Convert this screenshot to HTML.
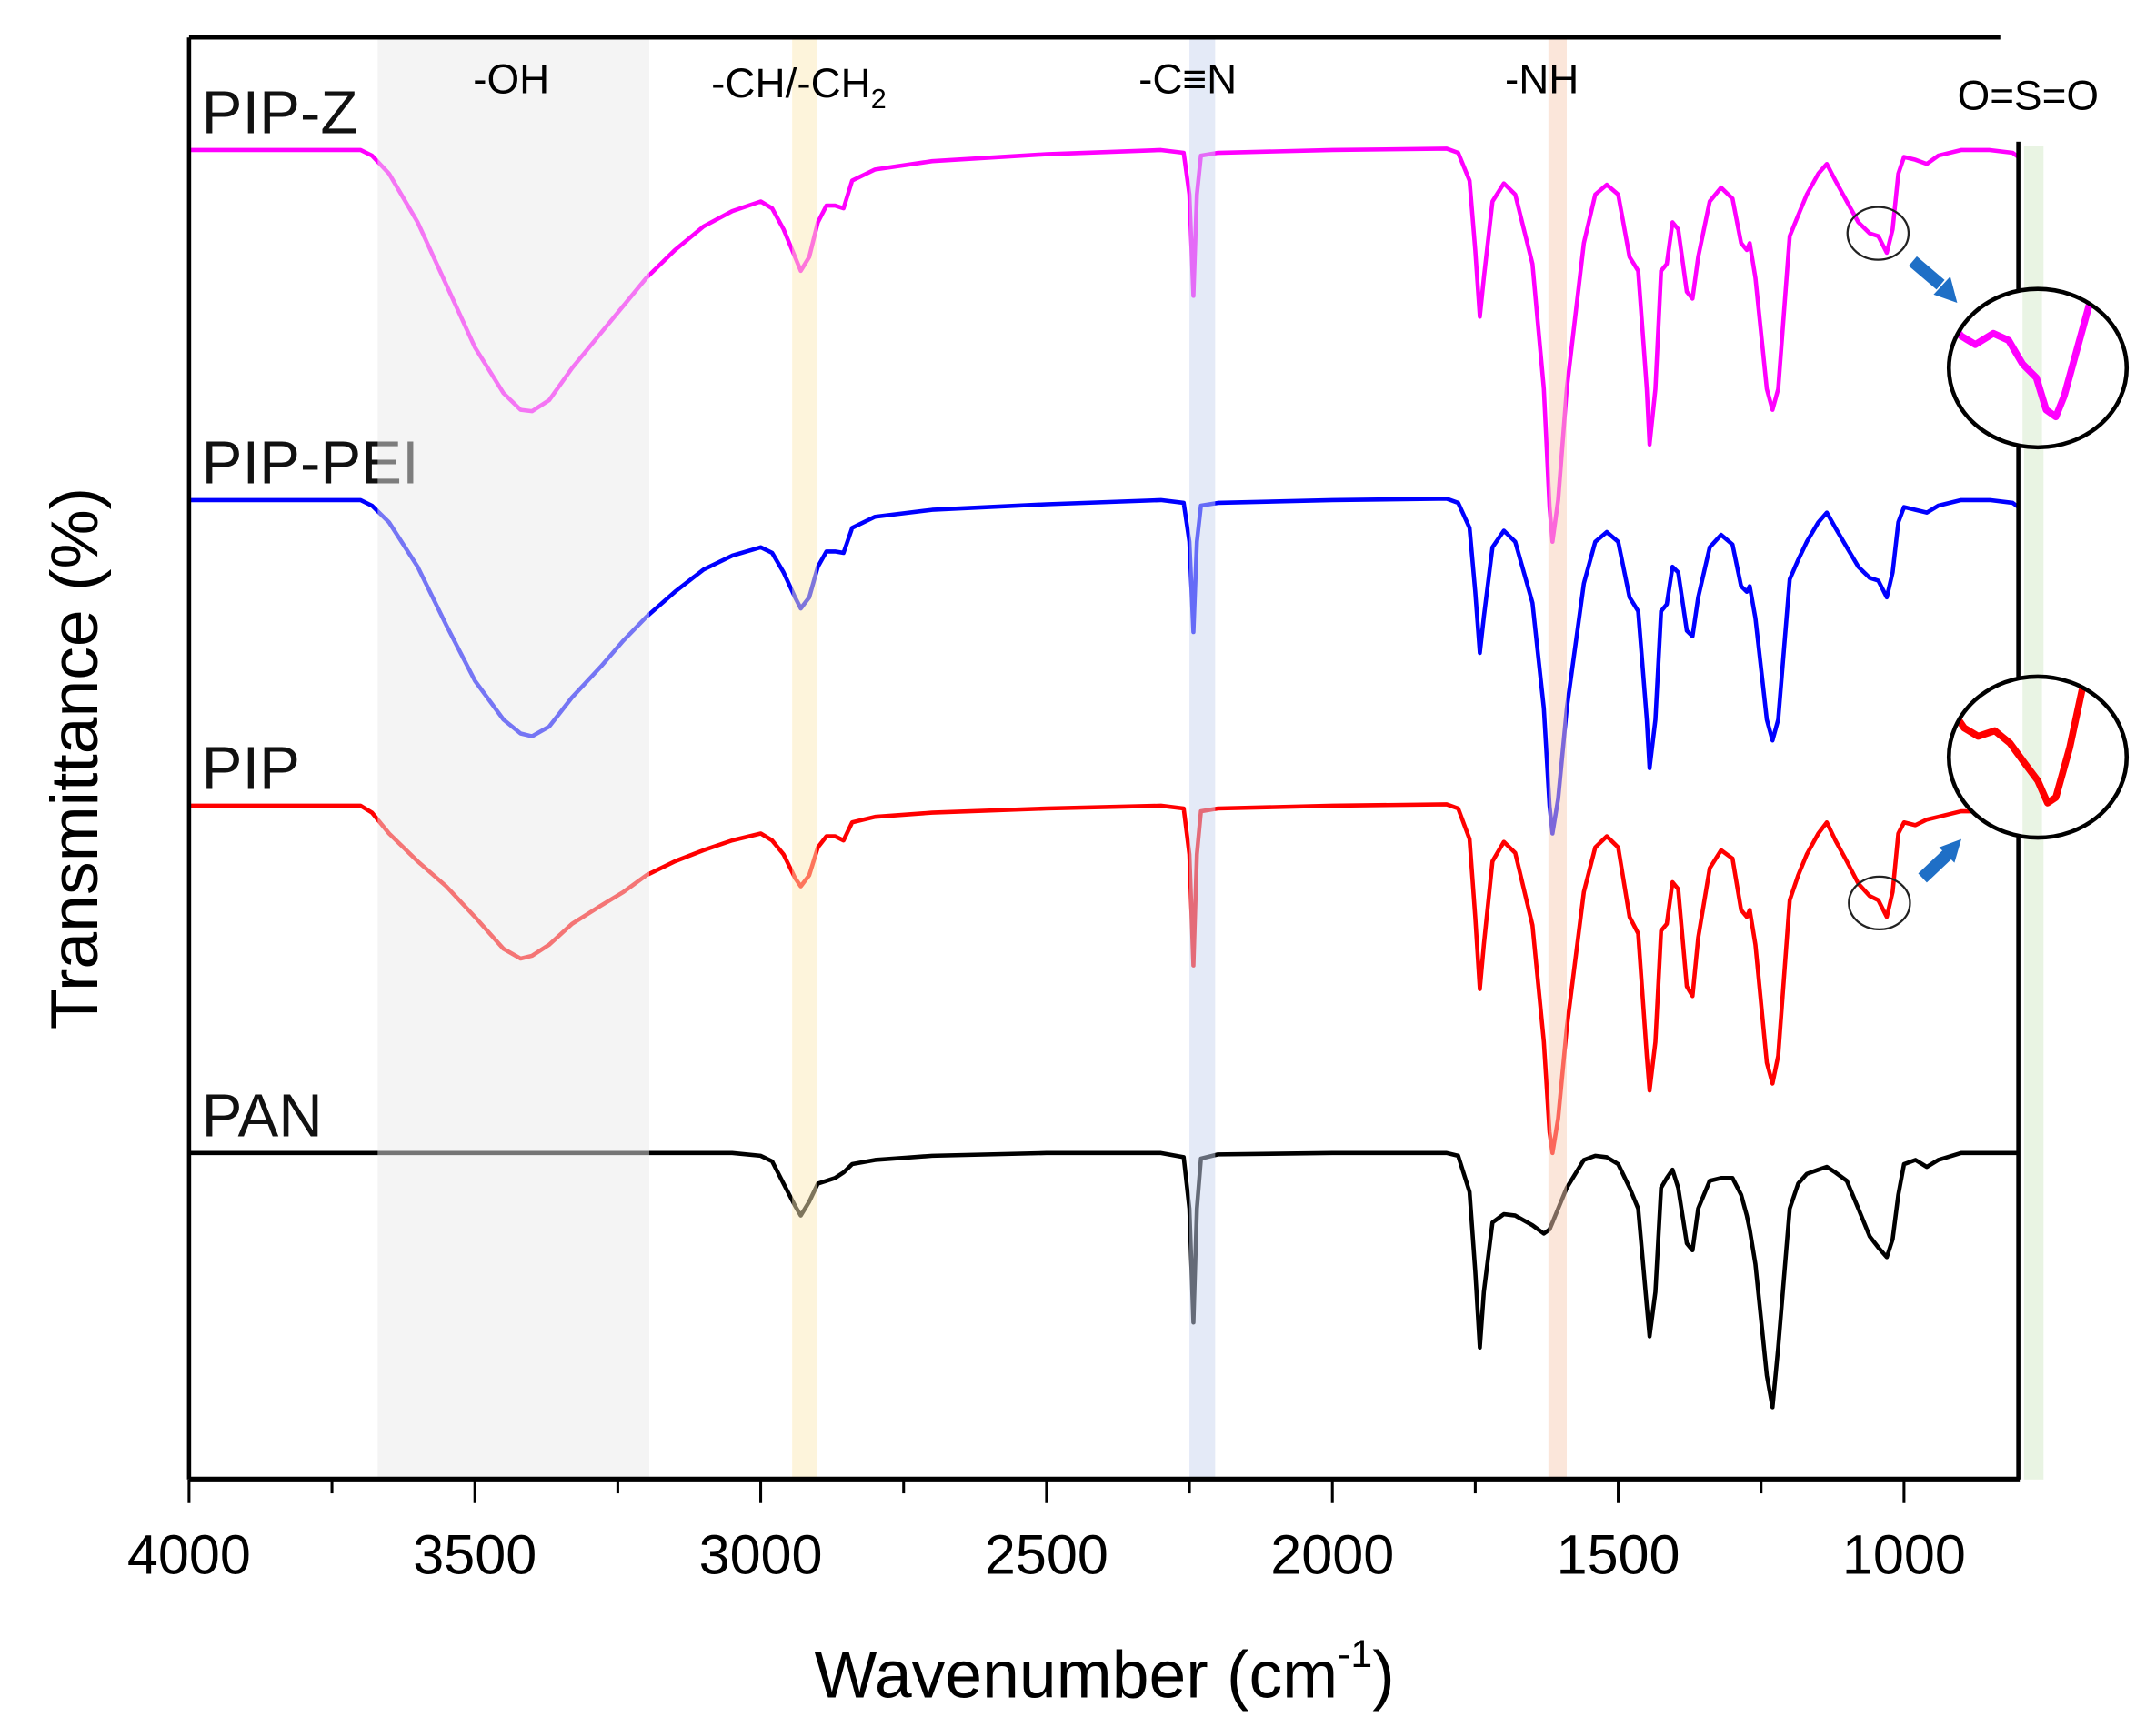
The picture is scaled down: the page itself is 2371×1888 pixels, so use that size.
<!DOCTYPE html>
<html><head><meta charset="utf-8"><style>
html,body{margin:0;padding:0;background:#fff}
svg{display:block;font-family:"Liberation Sans",sans-serif}
</style></head><body>
<svg id="chart" width="2371" height="1888" viewBox="0 0 1552 1236" xmlns="http://www.w3.org/2000/svg">
<rect x="0" y="0" width="1552" height="1236" fill="#fff"/>
<g id="bg"></g>
<g id="series"></g>
<g id="bands"></g>
<g id="axes"></g>
<g id="annot"></g>
</svg>
<script>
const wavenumbers=[4000,3700,3680,3650,3600,3550,3500,3450,3420,3400,
3370,3330,3280,3240,3200,3150,3100,3050,3000,2980,
2960,2940,2930,2915,2900,2885,2870,2855,2840,2800,
2700,2500,2300,2260,2250,2243,2237,2230,2200,2000,
1800,1780,1760,1750,1742,1735,1720,1700,1680,1650,
1630,1620,1615,1605,1590,1560,1540,1520,1500,1480,
1465,1450,1445,1435,1425,1415,1405,1395,1380,1370,
1360,1340,1320,1300,1285,1275,1270,1260,1240,1230,
1220,1200,1185,1170,1150,1135,1120,1100,1080,1060,
1045,1030,1020,1010,1000,980,960,940,900,850,
810,800];
const pipZ=[0,0,4,17,52,97,142,175,187,188,
180,157,132,112,92,72,55,44,37,42,
57,77,87,77,52,40,40,42,22,14,
8,3,0,2,32,105,32,4,2,0,
-1,2,22,72,120,92,37,24,32,82,
172,257,282,252,172,67,32,25,32,77,
87,172,212,172,87,82,52,57,102,107,
77,37,27,35,67,72,67,92,172,187,
172,62,47,32,17,10,22,37,52,60,
62,74,57,17,5,7,10,4,0,0,
2,5];
const pipPEI=[0,0,4,16,48,90,130,158,168,170,
163,142,120,101,84,66,50,40,34,38,
52,70,78,70,48,37,37,38,20,12,
7,3,0,2,30,95,30,4,2,0,
-1,2,20,66,110,84,34,22,30,74,
150,220,240,215,150,60,30,23,30,70,
80,158,193,158,80,75,48,52,94,98,
70,34,25,32,62,66,62,85,158,173,
158,57,43,30,16,9,20,34,48,56,
58,70,52,16,5,7,9,4,0,0,
2,5];
const pip=[0,0,5,20,40,58,80,103,110,108,
100,85,72,62,50,40,32,25,20,25,
35,52,58,50,30,22,22,25,12,8,
5,2,0,2,35,115,35,4,2,0,
-1,2,24,80,132,100,40,26,34,86,
170,235,250,225,160,62,30,22,30,80,
92,180,205,170,90,85,55,60,130,137,
95,45,32,38,75,80,75,100,185,200,
180,68,50,35,20,12,25,40,56,65,
68,80,62,20,12,14,10,8,4,4,
2,2];
const pan=[0,0,0,0,0,0,0,0,0,0,
0,0,0,0,0,0,0,0,2,6,
22,38,45,35,22,20,18,14,8,5,
2,0,0,3,40,122,40,4,1,0,
0,2,28,85,140,100,50,44,45,52,
58,55,50,40,25,5,2,3,8,25,
40,110,132,100,25,18,12,25,65,70,
40,20,18,18,30,45,55,80,160,183,
140,40,22,15,12,10,14,20,40,60,
68,75,62,30,8,5,10,5,0,0,
0,0];
const seriesNames=["PIP-Z","PIP-PEI","PIP","PAN"];
const seriesOffsets=[108,360,580,830];
const seriesColors=["#ff00ff","#0000ff","#ff0000","#000000"];
const xTicks=[4000,3500,3000,2500,2000,1500,1000];
const xMinorTicks=[3750,3250,2750,2250,1750,1250];

const NS="http://www.w3.org/2000/svg";
const L=136,R=1453,T=27,B=1065,X0=4000,X1=800;
function xs(w){return L+(X0-w)/(X0-X1)*(R-L);}
function ys(v,off){return off+v;}
function mk(tag,attrs,parent){const e=document.createElementNS(NS,tag);for(const k in attrs)e.setAttribute(k,attrs[k]);parent.appendChild(e);return e;}
const bg=document.getElementById('bg'),sg=document.getElementById('series'),bd=document.getElementById('bands'),ax=document.getElementById('axes'),an=document.getElementById('annot');

// bands
const bandDefs=[[3670,3195,"#e9e9e9",T,"oh-band"],[2945,2902,"#fbe9b8",T,"ch-band"],[2250,2205,"#c9d6ef",T,"cn-band"],[1622,1590,"#f7cdb5",T,"nh-band"],[790,756,"#d3e9c8",105,"oso-band"]];
bandDefs.forEach(b=>{
  const r=mk('rect',{x:xs(b[0]),y:b[3],width:xs(b[1])-xs(b[0]),height:B-b[3],fill:b[2],opacity:0.5},bd);
  
  
});

// series
const allData=[pipZ,pipPEI,pip,pan];
allData.forEach((d,i)=>{
  let p='';
  for(let j=0;j<wavenumbers.length;j++){p+=(j?'L':'M')+xs(wavenumbers[j]).toFixed(1)+','+ys(d[j],seriesOffsets[i]).toFixed(1);}
  const path=mk('path',{d:p,fill:'none',stroke:seriesColors[i],'stroke-width':3,'stroke-linejoin':'round'},sg);
  
  
  const t=mk('text',{x:145,y:seriesOffsets[i]-12,'font-size':44,fill:'#111'},sg);
  t.textContent=seriesNames[i];
  
  
});

// axes
mk('line',{x1:L,y1:T,x2:1440,y2:T,stroke:'#000','stroke-width':3},ax);
mk('line',{x1:L,y1:T,x2:L,y2:B,stroke:'#000','stroke-width':3},ax);
mk('line',{x1:R,y1:100,x2:R,y2:B,stroke:'#000','stroke-width':3},ax);
const xl=mk('line',{x1:L,y1:B,x2:R+1,y2:B,stroke:'#000','stroke-width':4},ax);


xTicks.forEach(w=>{
  mk('line',{x1:xs(w),y1:B,x2:xs(w),y2:B+17,stroke:'#000','stroke-width':2},ax);
  const t=mk('text',{x:xs(w),y:B+68,'font-size':40,'text-anchor':'middle',fill:'#000'},ax);
  t.textContent=w;
  
  
});
xMinorTicks.forEach(w=>{mk('line',{x1:xs(w),y1:B,x2:xs(w),y2:B+10,stroke:'#000','stroke-width':2},ax);});
</script>
<script>
// annotations (static)
(function(){
const an=document.getElementById('annot');
an.innerHTML=`
<text x="368" y="67" font-size="30" text-anchor="middle">-OH</text>
<text x="575" y="70" font-size="30" text-anchor="middle">-CH/-CH<tspan font-size="20" dy="8">2</tspan></text>
<text x="855" y="67" font-size="30" text-anchor="middle">-C≡N</text>
<text x="1110" y="67" font-size="30" text-anchor="middle">-NH</text>
<rect x="1375" y="30" width="177" height="72" fill="#fff"/>
<text x="1460" y="79" font-size="30" text-anchor="middle">O=S=O</text>
<ellipse cx="1352" cy="168" rx="22" ry="19" fill="none" stroke="#222" stroke-width="1.5"/>
<ellipse cx="1353" cy="650" rx="22" ry="19" fill="none" stroke="#222" stroke-width="1.5"/>
<path d="M1377,188 L1397,205" stroke="#1f6fc6" stroke-width="9"/>
<path d="M1392,212 L1409,218 L1404,199 Z" fill="#1f6fc6"/>
<path d="M1384,632 L1402,615" stroke="#1f6fc6" stroke-width="9"/>
<path d="M1396,610 L1412,604 L1407,621 Z" fill="#1f6fc6"/>
<defs>
<clipPath id="c1"><ellipse cx="1467" cy="265" rx="64" ry="57"/></clipPath>
<clipPath id="c2"><ellipse cx="1467" cy="545" rx="64" ry="58"/></clipPath>
</defs>
<ellipse cx="1467" cy="265" rx="64" ry="57" fill="#fff"/>
<ellipse cx="1467" cy="545" rx="64" ry="58" fill="#fff"/>
<rect x="1456" y="200" width="14" height="130" fill="#e9f4e4" clip-path="url(#c1)"/>
<rect x="1456" y="480" width="14" height="130" fill="#e9f4e4" clip-path="url(#c2)"/>
<path clip-path="url(#c1)" d="M1400,228 L1412,242 L1422,248 L1435,240 L1446,245 L1456,262 L1466,272 L1473,295 L1480,300 L1486,285 L1497,245 L1508,205" fill="none" stroke="#ff00ff" stroke-width="5" stroke-linejoin="round"/>
<path clip-path="url(#c2)" d="M1403,508 L1414,524 L1424,530 L1436,526 L1447,535 L1458,550 L1467,562 L1474,578 L1480,574 L1490,538 L1502,482" fill="none" stroke="#ff0000" stroke-width="5" stroke-linejoin="round"/>
<ellipse cx="1467" cy="265" rx="64" ry="57" fill="none" stroke="#000" stroke-width="3"/>
<ellipse cx="1467" cy="545" rx="64" ry="58" fill="none" stroke="#000" stroke-width="3"/>
<text transform="translate(70,546) rotate(-90)" font-size="48" text-anchor="middle">Transmittance (%)</text>
<text x="795" y="1222" font-size="48" text-anchor="middle">Wavenumber (cm<tspan font-size="28" dy="-22">-1</tspan><tspan dy="22">)</tspan></text>`;
})();
</script>
</body></html>
